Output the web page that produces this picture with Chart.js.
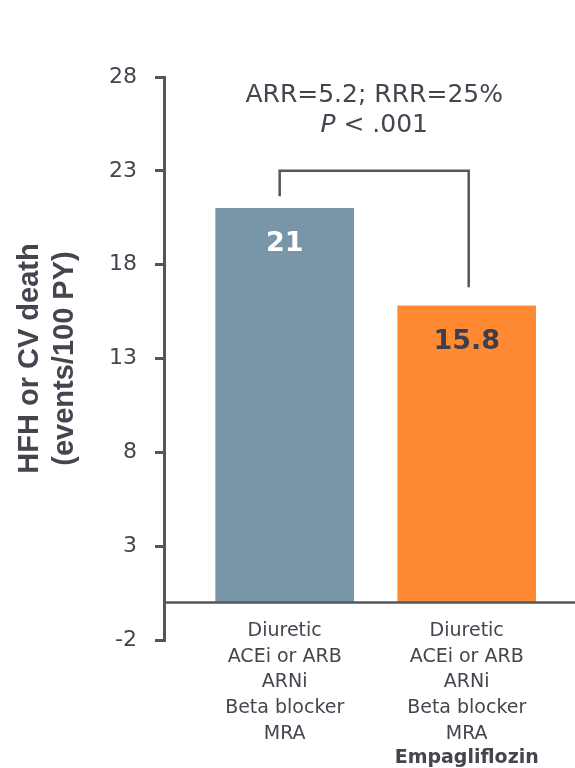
<!DOCTYPE html>
<html lang="en">

<head>
    <meta charset="UTF-8" />
    <title>HFH or CV death</title>
    <script src="https://cdn.jsdelivr.net/npm/chart.js"></script>
    <style>
        html, body { margin: 0; padding: 0; background: #fff; }
        #wrap { width: 575px; height: 768px; }
    </style>
</head>

<body>
    <div id="wrap"><canvas id="myChart"></canvas></div>

    <script>
        // data
        const groups = [
            ["Diuretic", "ACEi or ARB", "ARNi", "Beta blocker", "MRA"],
            ["Diuretic", "ACEi or ARB", "ARNi", "Beta blocker", "MRA"],
        ];
        const extraLine = ["", "Empagliflozin"];
        const rates = [21, 15.8];
        const rateLabels = ["21", "15.8"];
        const yTicks = [-2, 3, 8, 13, 18, 23, 28];
        const statLine1 = "ARR=5.2; RRR=25%";
        const statP = "< .001";

        const ink = "#45454f";
        const axisInk = "#55555f";
        const barColors = ["#7896a8", "#ff8a33"];
        const valueColors = ["#ffffff", "#3d3f4c"];
        const fontName = "'DejaVu Sans', Verdana, sans-serif";

        const tickPad = -4;
        const lineH = 25.6;

        // zero line, bracket, texts on top of the bars
        const extras = {
            id: "extras",
            afterDatasetsDraw(chart) {
                const { ctx, chartArea, scales } = chart;
                const x = scales.x, y = scales.y;
                ctx.save();

                // baseline at 0
                const y0 = y.getPixelForValue(0);
                ctx.strokeStyle = axisInk;
                ctx.lineWidth = 2.5;
                ctx.beginPath();
                ctx.moveTo(chartArea.left, y0);
                ctx.lineTo(chart.width, y0);
                ctx.stroke();

                // values inside bars
                ctx.textAlign = "center";
                ctx.textBaseline = "middle";
                ctx.font = "bold 27px " + fontName;
                rates.forEach((v, i) => {
                    ctx.fillStyle = valueColors[i];
                    ctx.fillText(rateLabels[i], x.getPixelForValue(i), y.getPixelForValue(v) + 36);
                });

                // comparison bracket
                const xl = x.getPixelForValue(0) - 5;
                const xr = x.getPixelForValue(1) + 2;
                const top = y.getPixelForValue(23);
                ctx.lineWidth = 2.5;
                ctx.beginPath();
                ctx.moveTo(xl, y.getPixelForValue(rates[0] + 0.65));
                ctx.lineTo(xl, top);
                ctx.lineTo(xr, top);
                ctx.lineTo(xr, y.getPixelForValue(rates[1] + 1.0));
                ctx.stroke();

                // statistics
                const cx = (xl + xr) / 2;
                ctx.fillStyle = ink;
                ctx.font = "25px " + fontName;
                ctx.fillText(statLine1, cx, 95);
                ctx.font = "italic 25px " + fontName;
                const pw = ctx.measureText("P ").width;
                ctx.font = "25px " + fontName;
                const rw = ctx.measureText(statP).width;
                const sx = cx - (pw + rw) / 2;
                ctx.textAlign = "left";
                ctx.font = "italic 25px " + fontName;
                ctx.fillText("P", sx, 125);
                ctx.font = "25px " + fontName;
                ctx.fillText(statP, sx + pw, 125);

                // bold last line under the second group
                ctx.textAlign = "center";
                ctx.font = "bold 19px " + fontName;
                extraLine.forEach((t, i) => {
                    if (!t) return;
                    const ty = x.top - 10 + groups[i].length * lineH;
                    ctx.fillText(t, x.getPixelForValue(i), ty);
                });

                ctx.restore();
            },
        };

        const canvas = document.getElementById("myChart");

        const config = {
            type: "bar",
            data: {
                datasets: [
                    {
                        data: rates.map((v, i) => ({ x: i, y: v })),
                        backgroundColor: barColors,
                        barThickness: 138,
                    },
                ],
            },
            options: {
                responsive: true,
                maintainAspectRatio: false,
                animation: false,
                layout: { padding: { top: 77, right: 0, left: 0, bottom: 0 } },
                plugins: { legend: { display: false }, tooltip: { enabled: false } },
                scales: {
                    x: {
                        type: "linear",
                        offset: false,
                        min: -0.663,
                        max: 1.595,
                        grid: { display: false, drawTicks: false },
                        border: { display: false },
                        afterBuildTicks: (scale) => {
                            scale.ticks = groups.map((g, i) => ({ value: i }));
                        },
                        afterFit: (scale) => { scale.height = 128; },
                        ticks: {
                            autoSkip: false,
                            maxRotation: 0,
                            mirror: true,
                            padding: tickPad,
                            color: ink,
                            font: { family: fontName, size: 19, lineHeight: lineH / 19 },
                            callback: (v) => groups[v] || "",
                        },
                    },
                    y: {
                        min: -2,
                        max: 28,
                        afterBuildTicks: (scale) => {
                            scale.ticks = yTicks.map((v) => ({ value: v }));
                        },
                        afterFit: (scale) => { scale.width = 164; },
                        grid: {
                            drawOnChartArea: false,
                            drawTicks: true,
                            tickLength: 9,
                            color: axisInk,
                            lineWidth: 3,
                        },
                        border: { color: axisInk, width: 3 },
                        ticks: {
                            padding: 18,
                            color: ink,
                            font: { family: fontName, size: 22 },
                        },
                        title: {
                            display: true,
                            text: ["HFH or CV death", "(events/100 PY)"],
                            color: ink,
                            padding: { top: 13, bottom: 0 },
                            font: { family: "'Liberation Sans', Arial, sans-serif", size: 29, weight: "bold", lineHeight: 1.2 },
                        },
                    },
                },
            },
            plugins: [extras],
        };

        const myChart = new Chart(canvas, config);
    </script>
</body>

</html>
